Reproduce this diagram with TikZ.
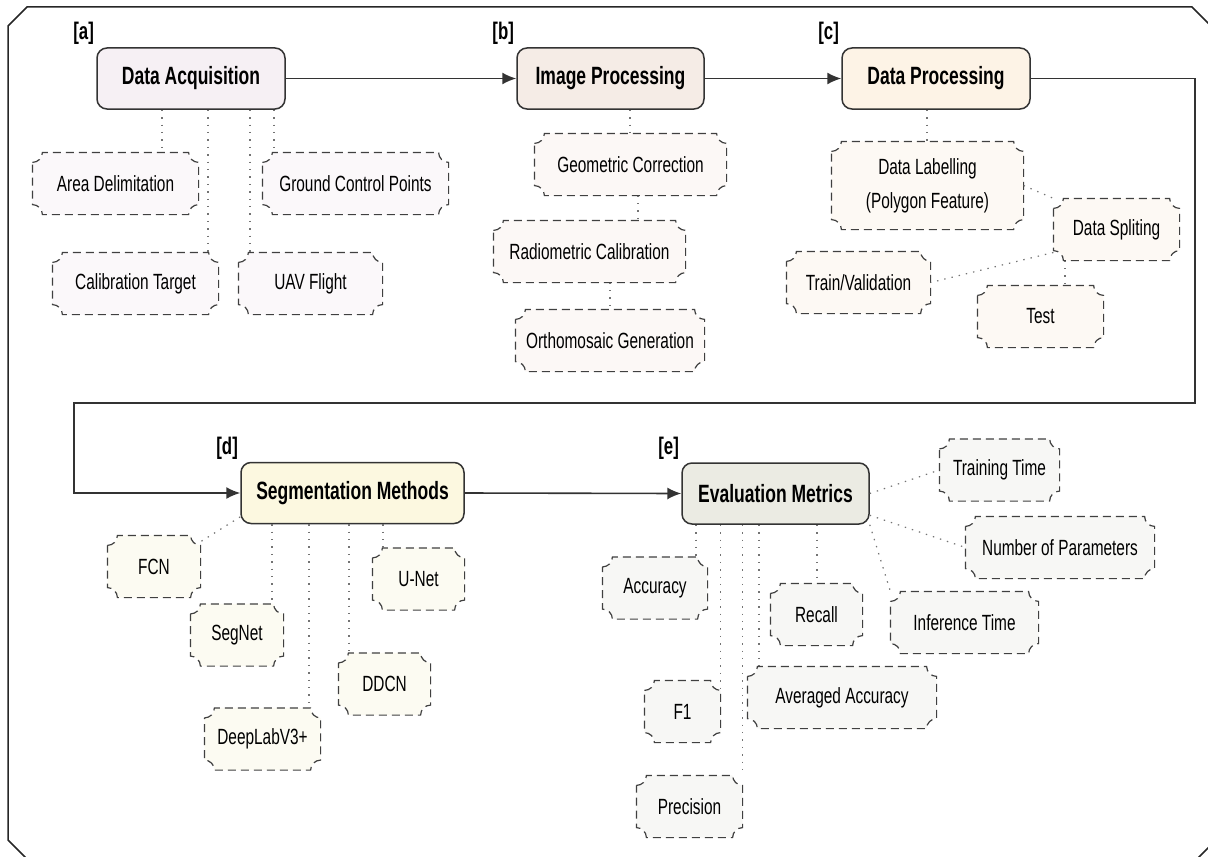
\documentclass[tikz,border=0pt]{standalone}
\usepackage{fontspec}
\setmainfont[FakeStretch=0.7]{Liberation Sans}
\usepackage{tikz}
\usetikzlibrary{arrows.meta}
\definecolor{acqfill}{HTML}{F6F0F4}
\definecolor{acqsub}{HTML}{FBF8FA}
\definecolor{imgfill}{HTML}{F5ECE6}
\definecolor{imgsub}{HTML}{FCF8F6}
\definecolor{datfill}{HTML}{FDF3E6}
\definecolor{datsub}{HTML}{FDF9F4}
\definecolor{segfill}{HTML}{FCF8E0}
\definecolor{segsub}{HTML}{FCFBF2}
\definecolor{evafill}{HTML}{EBEBE3}
\definecolor{evasub}{HTML}{F7F7F5}
\makeatletter
\newdimen\tkl \newdimen\tkr \newdimen\tkt \newdimen\tkb \newdimen\tkc
\pgfdeclareshape{ticket}{%
  \inheritsavedanchors[from=rectangle]%
  \inheritanchorborder[from=rectangle]%
  \inheritanchor[from=rectangle]{center}%
  \inheritanchor[from=rectangle]{north}%
  \inheritanchor[from=rectangle]{south}%
  \inheritanchor[from=rectangle]{east}%
  \inheritanchor[from=rectangle]{west}%
  \inheritanchor[from=rectangle]{north east}%
  \inheritanchor[from=rectangle]{north west}%
  \inheritanchor[from=rectangle]{south east}%
  \inheritanchor[from=rectangle]{south west}%
  \inheritanchor[from=rectangle]{text}%
  \inheritanchor[from=rectangle]{base}%
  \inheritanchor[from=rectangle]{mid}%
  \backgroundpath{%
    \southwest \tkl=\pgf@x \tkb=\pgf@y
    \northeast \tkr=\pgf@x \tkt=\pgf@y
    \tkc=5pt
    \pgfpathmoveto{\pgfpoint{\tkl}{\tkt-\tkc}}%
    \pgfpatharc{270}{360}{\tkc}%
    \pgfpathlineto{\pgfpoint{\tkr-\tkc}{\tkt}}%
    \pgfpatharc{180}{270}{\tkc}%
    \pgfpathlineto{\pgfpoint{\tkr}{\tkb+\tkc}}%
    \pgfpatharc{90}{180}{\tkc}%
    \pgfpathlineto{\pgfpoint{\tkl+\tkc}{\tkb}}%
    \pgfpatharc{0}{90}{\tkc}%
    \pgfpathclose
  }%
}
\makeatother

\begin{document}
\begin{tikzpicture}[x=0.5pt,y=-0.5pt,
	stage/.style={draw=black!80, line width=0.75pt, rounded corners=5pt, minimum height=30.5pt, inner sep=0pt, font=\fontsize{12.5}{15}\selectfont\bfseries},
	item/.style={ticket, draw=black!75, line width=0.6pt, dash pattern=on 4pt off 2.5pt, minimum height=30.5pt, inner sep=0pt, align=center, font=\fontsize{11}{17}\selectfont},
	boxw/.style={minimum width=#1*0.5pt},
	tag/.style={anchor=south east, inner sep=1pt, font=\fontsize{12}{14}\selectfont\bfseries},
	flow/.style={draw=black!80, line width=0.8pt, -{Latex[length=7pt,width=6pt]}},
	link/.style={draw=black!55, line width=0.6pt, dash pattern=on 0.7pt off 3pt}]
	\useasboundingbox (0,0) rectangle (1208,856);
	\clip (0,0) rectangle (1208,856);
	\draw[line width=0.75pt, black!85] (8,26) -- (27,7) -- (1192,7) -- (1213,28) -- (1213,843) -- (1196,860) -- (28,860) -- (8,840) -- cycle;

	% main stages
	\node[stage, boxw=188, fill=acqfill] (DA) at (191,78.5) {Data Acquisition};
	\node[stage, boxw=187, fill=imgfill] (IP) at (610.5,78.5) {Image Processing};
	\node[stage, boxw=188, fill=datfill] (DPr) at (936,78.5) {Data Processing};
	\node[stage, boxw=223, fill=segfill] (SM) at (352.5,493) {Segmentation Methods};
	\node[stage, boxw=187, fill=evafill] (EM) at (775.5,493.5) {Evaluation Metrics};
	\node[tag] (la) at (DA.north west) {[a]};
	\node[tag] (lb) at (IP.north west) {[b]};
	\node[tag] (lc) at (DPr.north west) {[c]};
	\node[tag] (ld) at (SM.north west) {[d]};
	\node[tag] (le) at (EM.north west) {[e]};

	\draw[flow] (DA.east) -- (IP.west);
	\draw[flow] (IP.east) -- (DPr.west);
	\draw[flow] (DPr.east) -| (1195,403) -| (74,493) -- (SM.west);
	\draw[flow] (SM.east) -- (EM.west);

	% [a]
	\node[item, boxw=165, fill=acqsub] (AD) at (115.5,183.5) {Area Delimitation};
	\node[item, boxw=185, fill=acqsub] (GCP) at (355.5,183.5) {Ground Control Points};
	\node[item, boxw=165, fill=acqsub] (CT) at (135.5,283.5) {Calibration Target};
	\node[item, boxw=143, fill=acqsub] (UAV) at (310.5,283.5) {UAV Flight};
	\draw[link] (DA.south -| 162,0) -- (AD.north -| 162,0);
	\draw[link] (DA.south -| 208,0) -- (CT.north -| 208,0);
	\draw[link] (DA.south -| 250,0) -- (UAV.north -| 250,0);
	\draw[link] (DA.south -| 274,0) -- (GCP.north -| 274,0);

	% [b]
	\node[item, boxw=191, fill=imgsub] (GC) at (630.5,164.5) {Geometric Correction};
	\node[item, boxw=191, fill=imgsub] (RC) at (589.5,251.5) {Radiometric Calibration};
	\node[item, boxw=188, fill=imgsub] (OG) at (610,340.5) {Orthomosaic Generation};
	\draw[link] (IP.south -| 630,0) -- (GC.north -| 630,0);
	\draw[link] (GC.south -| 638,0) -- (RC.north -| 638,0);
	\draw[link] (RC.south -| 610,0) -- (OG.north -| 610,0);

	% [c]
	\node[item, boxw=191, minimum height=43.5pt, fill=datsub] (DL) at (927.5,185.5) {Data Labelling\\(Polygon Feature)};
	\node[item, boxw=125, fill=datsub] (DS) at (1116.5,229.5) {Data Spliting};
	\node[item, boxw=143, fill=datsub] (TV) at (858.5,282.5) {Train/Validation};
	\node[item, boxw=125, fill=datsub] (TE) at (1040.5,316.5) {Test};
	\draw[link] (DPr.south -| 927,0) -- (DL.north -| 927,0);
	\draw[link] (DL.east) -- (DS.north west);
	\draw[link] (DS.200) -- (TV.east);
	\draw[link] (DS.south -| 1065,0) -- (TE.north -| 1065,0);

	% [d]
	\node[item, boxw=92, fill=segsub] (FCN) at (154,566.5) {FCN};
	\node[item, boxw=92, fill=segsub] (SN) at (237,635) {SegNet};
	\node[item, boxw=115, fill=segsub] (DLV) at (262.5,739) {DeepLabV3+};
	\node[item, boxw=91, fill=segsub] (DD) at (384.5,684) {DDCN};
	\node[item, boxw=91, fill=segsub] (UN) at (418.5,579) {U-Net};
	\draw[link] (SM.192) -- (FCN.28);
	\draw[link] (SM.south -| 272,0) -- (SN.north -| 272,0);
	\draw[link] (SM.south -| 309,0) -- (DLV.north -| 309,0);
	\draw[link] (SM.south -| 349,0) -- (DD.north -| 349,0);
	\draw[link] (SM.south -| 383,0) -- (UN.north -| 383,0);

	% [e]
	\node[item, boxw=104, fill=evasub] (AC) at (655,588) {Accuracy};
	\node[item, boxw=91, fill=evasub] (RE) at (816.5,614.5) {Recall};
	\node[item, boxw=75, fill=evasub] (F1) at (682.5,711.5) {F1};
	\node[item, boxw=188, fill=evasub] (AA) at (842,697.5) {Averaged Accuracy};
	\node[item, boxw=105, fill=evasub] (PR) at (689.5,806.5) {Precision};
	\node[item, boxw=119, fill=evasub] (TT) at (999.5,470) {Training Time};
	\node[item, boxw=188, fill=evasub] (NP) at (1060,547.5) {Number of Parameters};
	\node[item, boxw=147, fill=evasub] (IT) at (964.5,622.5) {Inference Time};
	\draw[link] (EM.south -| 696,0) -- (AC.north -| 696,0);
	\draw[link] (EM.south -| F1.30) -- (F1.30);
	\draw[link] (EM.south -| PR.north east) -- (PR.north east);
	\draw[link] (EM.south -| 759,0) -- (AA.north -| 759,0);
	\draw[link] (EM.south -| 817,0) -- (RE.north -| 817,0);
	\draw[link] (EM.south east) -- (IT.north west);
	\draw[link] (EM.east) -- (TT.west);
	\draw[link] (EM.-13) -- (NP.west);
	%\draw [brown] (current bounding box.south west) rectangle (current bounding box.north east);
\end{tikzpicture}
\end{document}
